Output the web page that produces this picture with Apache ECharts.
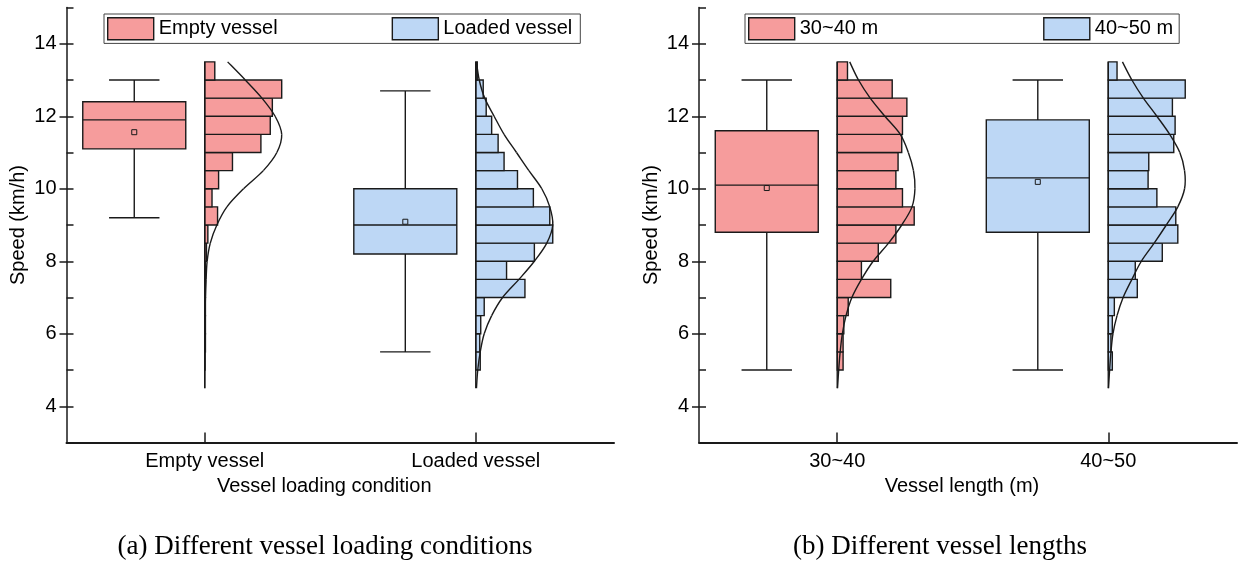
<!DOCTYPE html>
<html>
<head>
<meta charset="utf-8">
<script src="https://cdn.jsdelivr.net/npm/echarts@6/dist/echarts.min.js"></script>
<style>
  html, body { margin: 0; padding: 0; background: #fff; }
  #chart { width: 1238px; height: 563px; }
</style>
</head>
<body>
<div id="chart"></div>
<script>
// ---- data -------------------------------------------------------------
const groupsA = ['Empty vessel', 'Loaded vessel'];
const groupsB = ['30~40', '40~50'];
const legendA = ['Empty vessel', 'Loaded vessel'];
const legendB = ['30~40 m', '40~50 m'];
const speedTicks = [4, 6, 8, 10, 12, 14];
const speedMinorTicks = [3, 4, 5, 6, 7, 8, 9, 10, 11, 12, 13, 14, 15];

// box statistics: [min, Q1, median, Q3, max, mean] (km/h)
const boxEmpty  = [9.2, 11.1, 11.9, 12.4, 13.0, 11.56];
const boxLoaded = [5.5, 8.2, 9.0, 10.0, 12.7, 9.09];
const box3040   = [5.0, 8.8, 10.1, 11.6, 13.0, 10.02];
const box4050   = [5.0, 8.8, 10.3, 11.9, 13.0, 10.19];

// histogram bins: lower edges (km/h), 0.5 km/h wide
const binLower = [5.0, 5.5, 6.0, 6.5, 7.0, 7.5, 8.0, 8.5, 9.0, 9.5, 10.0, 10.5, 11.0, 11.5, 12.0, 12.5, 13.0];
const binWidth = 0.5;
// relative frequency (%) per bin
const histEmpty  = [0.1, 0.2, 0.2, 0.2, 0.2, 0.2, 0.5, 0.9, 3.7, 2.1, 4.0, 8.0, 16.2, 18.9, 19.5, 22.2, 2.9];
const histLoaded = [0.9, 0.8, 1.0, 1.7, 9.9, 6.2, 11.8, 15.5, 14.9, 11.6, 8.4, 5.7, 4.5, 3.2, 2.1, 1.5, 0.3];
const hist3040   = [0.8, 0.8, 0.9, 1.5, 7.3, 3.3, 5.6, 8.0, 10.5, 8.9, 8.0, 8.3, 8.8, 8.9, 9.5, 7.5, 1.4];
const hist4050   = [0.6, 0.4, 0.6, 0.9, 4.3, 4.0, 8.0, 10.3, 10.0, 7.2, 5.9, 6.0, 9.7, 9.9, 9.5, 11.4, 1.3];

// fitted normal curves (%), sampled at these speeds
const curveSpeeds = [4.5, 5.0, 5.5, 6.0, 6.5, 7.0, 7.5, 8.0, 8.5, 9.0, 9.5, 10.0, 10.5, 11.0, 11.5, 12.0, 12.5, 13.0, 13.5];
const curveEmpty  = [0, 0.01, 0.02, 0.05, 0.1, 0.2, 0.4, 0.7, 1.6, 3.5, 6.4, 11.2, 16.9, 20.8, 22.2, 20.3, 16.5, 11.7, 6.6];
const curveLoaded = [0.14, 0.4, 0.9, 1.7, 3.2, 5.4, 8.7, 11.8, 14.3, 15.5, 14.9, 13.3, 10.7, 8.2, 5.7, 3.7, 1.8, 0.7, 0.14];
const curve3040   = [0.04, 0.2, 0.4, 0.7, 1.2, 2.0, 3.3, 4.9, 7.0, 8.8, 10.2, 10.6, 10.4, 9.7, 8.6, 6.5, 4.5, 2.9, 1.7];
const curve4050   = [0.04, 0.2, 0.4, 0.7, 1.3, 2.2, 3.5, 4.9, 6.8, 8.6, 10.3, 11.3, 11.3, 10.6, 9.1, 7.2, 5.2, 3.5, 2.1];

// ---- styling ------------------------------------------------------------
const PINK = '#F69C9C';
const BLUE = '#BDD7F5';
const DARK = '#1a1a1a';
const FONT = "'Liberation Sans', Arial, sans-serif";
const SERIF = "'Liberation Serif', 'Times New Roman', serif";
const BOX_SHIFT = 0.26;   // box centre, axis units left of the category tick
const BOX_HALF = 0.19;
const CAP_HALF = 0.093;
const HIST_SPAN = 0.284;  // length of the tallest histogram bar, axis units
const LW = 1.4;

function boxSeries(name, grid, pos, stats, color) {
  return {
    type: 'custom', name, xAxisIndex: grid, yAxisIndex: grid * 2,
    itemStyle: { color }, z: 3, silent: true,
    data: [[pos].concat(stats)],
    renderItem(params, api) {
      const cx = api.value(0) - BOX_SHIFT;
      const [mn, q1, md, q3, mx, mean] = [1, 2, 3, 4, 5, 6].map(i => api.value(i));
      const P = (x, y) => api.coord([x, y]);
      const seg = (a, b) => ({ type: 'line', shape: { x1: a[0], y1: a[1], x2: b[0], y2: b[1] },
        style: { stroke: DARK, lineWidth: LW } });
      const tl = P(cx - BOX_HALF, q3), br = P(cx + BOX_HALF, q1);
      const m = P(cx, mean);
      return { type: 'group', children: [
        seg(P(cx, mx), P(cx, q3)),
        seg(P(cx, q1), P(cx, mn)),
        seg(P(cx - CAP_HALF, mx), P(cx + CAP_HALF, mx)),
        seg(P(cx - CAP_HALF, mn), P(cx + CAP_HALF, mn)),
        { type: 'rect', shape: { x: tl[0], y: tl[1], width: br[0] - tl[0], height: br[1] - tl[1] },
          style: { fill: color, stroke: DARK, lineWidth: LW } },
        seg(P(cx - BOX_HALF, md), P(cx + BOX_HALF, md)),
        { type: 'rect', shape: { x: m[0] - 2.5, y: m[1] - 2.5, width: 5, height: 5 },
          style: { fill: color, stroke: DARK, lineWidth: 1 } }
      ] };
    }
  };
}

function histSeries(name, grid, pos, values, color) {
  const peak = Math.max.apply(null, values);
  return {
    type: 'custom', name, xAxisIndex: grid, yAxisIndex: grid * 2,
    itemStyle: { color }, z: 3, silent: true,
    data: binLower.map((lo, i) => [lo, lo + binWidth, values[i]]),
    renderItem(params, api) {
      const lo = api.value(0), hi = api.value(1), v = api.value(2);
      const top = api.coord([pos + v / peak * HIST_SPAN, hi]);
      const bot = api.coord([pos, lo]);
      return { type: 'rect',
        shape: { x: bot[0], y: top[1], width: top[0] - bot[0], height: bot[1] - top[1] },
        style: { fill: color, stroke: DARK, lineWidth: LW } };
    }
  };
}

// fitted curve: drawn through its sample points as a Catmull-Rom spline
function curveSeries(grid, pos, values, histValues) {
  const peak = Math.max.apply(null, histValues);
  const pts = curveSpeeds.map((s, i) => [pos + values[i] / peak * HIST_SPAN, s]);
  return {
    type: 'custom', xAxisIndex: grid, yAxisIndex: grid * 2, z: 4, silent: true,
    data: [[pos, curveSpeeds[0]]],
    renderItem(params, api) {
      const p = pts.map(d => api.coord(d));
      const n = p.length;
      const children = [];
      for (let i = 0; i < n - 1; i++) {
        const a = p[Math.max(i - 1, 0)], b = p[i], c = p[i + 1], d = p[Math.min(i + 2, n - 1)];
        children.push({ type: 'bezierCurve', shape: {
          x1: b[0], y1: b[1], x2: c[0], y2: c[1],
          cpx1: b[0] + (c[0] - a[0]) / 6, cpy1: b[1] + (c[1] - a[1]) / 6,
          cpx2: c[0] - (d[0] - b[0]) / 6, cpy2: c[1] - (d[1] - b[1]) / 6
        }, style: { stroke: DARK, lineWidth: LW, fill: null } });
      }
      return { type: 'group', children };
    }
  };
}

function baselineSeries(grid, pos) {
  return {
    type: 'line', xAxisIndex: grid, yAxisIndex: grid * 2, z: 4, silent: true,
    symbol: 'none', lineStyle: { color: DARK, width: LW },
    data: [[pos, curveSpeeds[0]], [pos, curveSpeeds[curveSpeeds.length - 1]]]
  };
}

function xAxisFor(grid, cats, name, max, namePad) {
  return {
    type: 'value', gridIndex: grid, min: 0.49, max,
    name, nameLocation: 'middle', nameGap: 34,
    nameTextStyle: { fontFamily: FONT, fontSize: 20, color: '#000', padding: [0, namePad, 0, 0] },
    axisLine: { show: true, onZero: false, lineStyle: { color: DARK, width: 2 } },
    axisTick: { show: true, inside: true, length: 10, customValues: [1, 2], lineStyle: { color: DARK, width: 1.5 } },
    axisLabel: { customValues: [1, 2], formatter: v => cats[Math.round(v) - 1], margin: 9,
      fontFamily: FONT, fontSize: 20, color: '#000' },
    splitLine: { show: false }
  };
}

function yAxesFor(grid) {
  return [{
    type: 'value', gridIndex: grid, min: 3, max: 15, position: 'left',
    name: 'Speed (km/h)', nameLocation: 'middle', nameGap: 38, nameRotate: 90,
    nameTextStyle: { fontFamily: FONT, fontSize: 20, color: '#000' },
    axisLine: { show: true, onZero: false, lineStyle: { color: DARK, width: 1.5 } },
    axisTick: { show: true, inside: false, length: 7, customValues: speedTicks, lineStyle: { color: DARK, width: 1.5 } },
    axisLabel: { customValues: speedTicks, margin: 10, fontFamily: FONT, fontSize: 20, color: '#000' },
    splitLine: { show: false }
  }, {
    type: 'value', gridIndex: grid, min: 3, max: 15, position: 'left', offset: 0,
    axisLine: { show: false },
    axisTick: { show: true, inside: true, length: 7, customValues: speedMinorTicks, lineStyle: { color: DARK, width: 1.5 } },
    axisLabel: { show: false },
    splitLine: { show: false }
  }];
}

function legendFor(names, colors, left, gap, padRight) {
  return {
    left, top: 14, orient: 'horizontal', selectedMode: false,
    itemWidth: 46, itemHeight: 22, itemGap: gap,
    padding: [3, padRight, 3, 3],
    borderColor: '#444', borderWidth: 1, backgroundColor: '#fff',
    textStyle: { fontFamily: FONT, fontSize: 20, color: '#000' },
    data: names.map((n, i) => ({ name: n, icon: 'rect',
      itemStyle: { color: colors[i], borderColor: DARK, borderWidth: LW } }))
  };
}

const chart = echarts.init(document.getElementById('chart'), null, { renderer: 'canvas' });
chart.setOption({
  animation: false,
  backgroundColor: '#fff',
  grid: [
    { left: 66.5, top: 7.5, width: 547.5, height: 435 },
    { left: 699, top: 7.5, width: 538, height: 435 }
  ],
  xAxis: [
    xAxisFor(0, groupsA, 'Vessel loading condition', 2.51, 32),
    xAxisFor(1, groupsB, 'Vessel length (m)', 2.475, 12)
  ],
  yAxis: yAxesFor(0).concat(yAxesFor(1)),
  legend: [
    legendFor(legendA, [PINK, BLUE], 104, 114, 8),
    legendFor(legendB, [PINK, BLUE], 745, 165, 6)
  ],
  series: [
    boxSeries(legendA[0], 0, 1, boxEmpty, PINK),
    histSeries(legendA[0], 0, 1, histEmpty, PINK),
    baselineSeries(0, 1),
    curveSeries(0, 1, curveEmpty, histEmpty),
    boxSeries(legendA[1], 0, 2, boxLoaded, BLUE),
    histSeries(legendA[1], 0, 2, histLoaded, BLUE),
    baselineSeries(0, 2),
    curveSeries(0, 2, curveLoaded, histLoaded),
    boxSeries(legendB[0], 1, 1, box3040, PINK),
    histSeries(legendB[0], 1, 1, hist3040, PINK),
    baselineSeries(1, 1),
    curveSeries(1, 1, curve3040, hist3040),
    boxSeries(legendB[1], 1, 2, box4050, BLUE),
    histSeries(legendB[1], 1, 2, hist4050, BLUE),
    baselineSeries(1, 2),
    curveSeries(1, 2, curve4050, hist4050)
  ],
  graphic: [
    { type: 'text', x: 325, y: 547, style: { text: '(a) Different vessel loading conditions',
      font: '27px ' + SERIF, fill: '#000', textAlign: 'center', textVerticalAlign: 'middle' } },
    { type: 'text', x: 940, y: 547, style: { text: '(b) Different vessel lengths',
      font: '27px ' + SERIF, fill: '#000', textAlign: 'center', textVerticalAlign: 'middle' } }
  ]
});
</script>
</body>
</html>
